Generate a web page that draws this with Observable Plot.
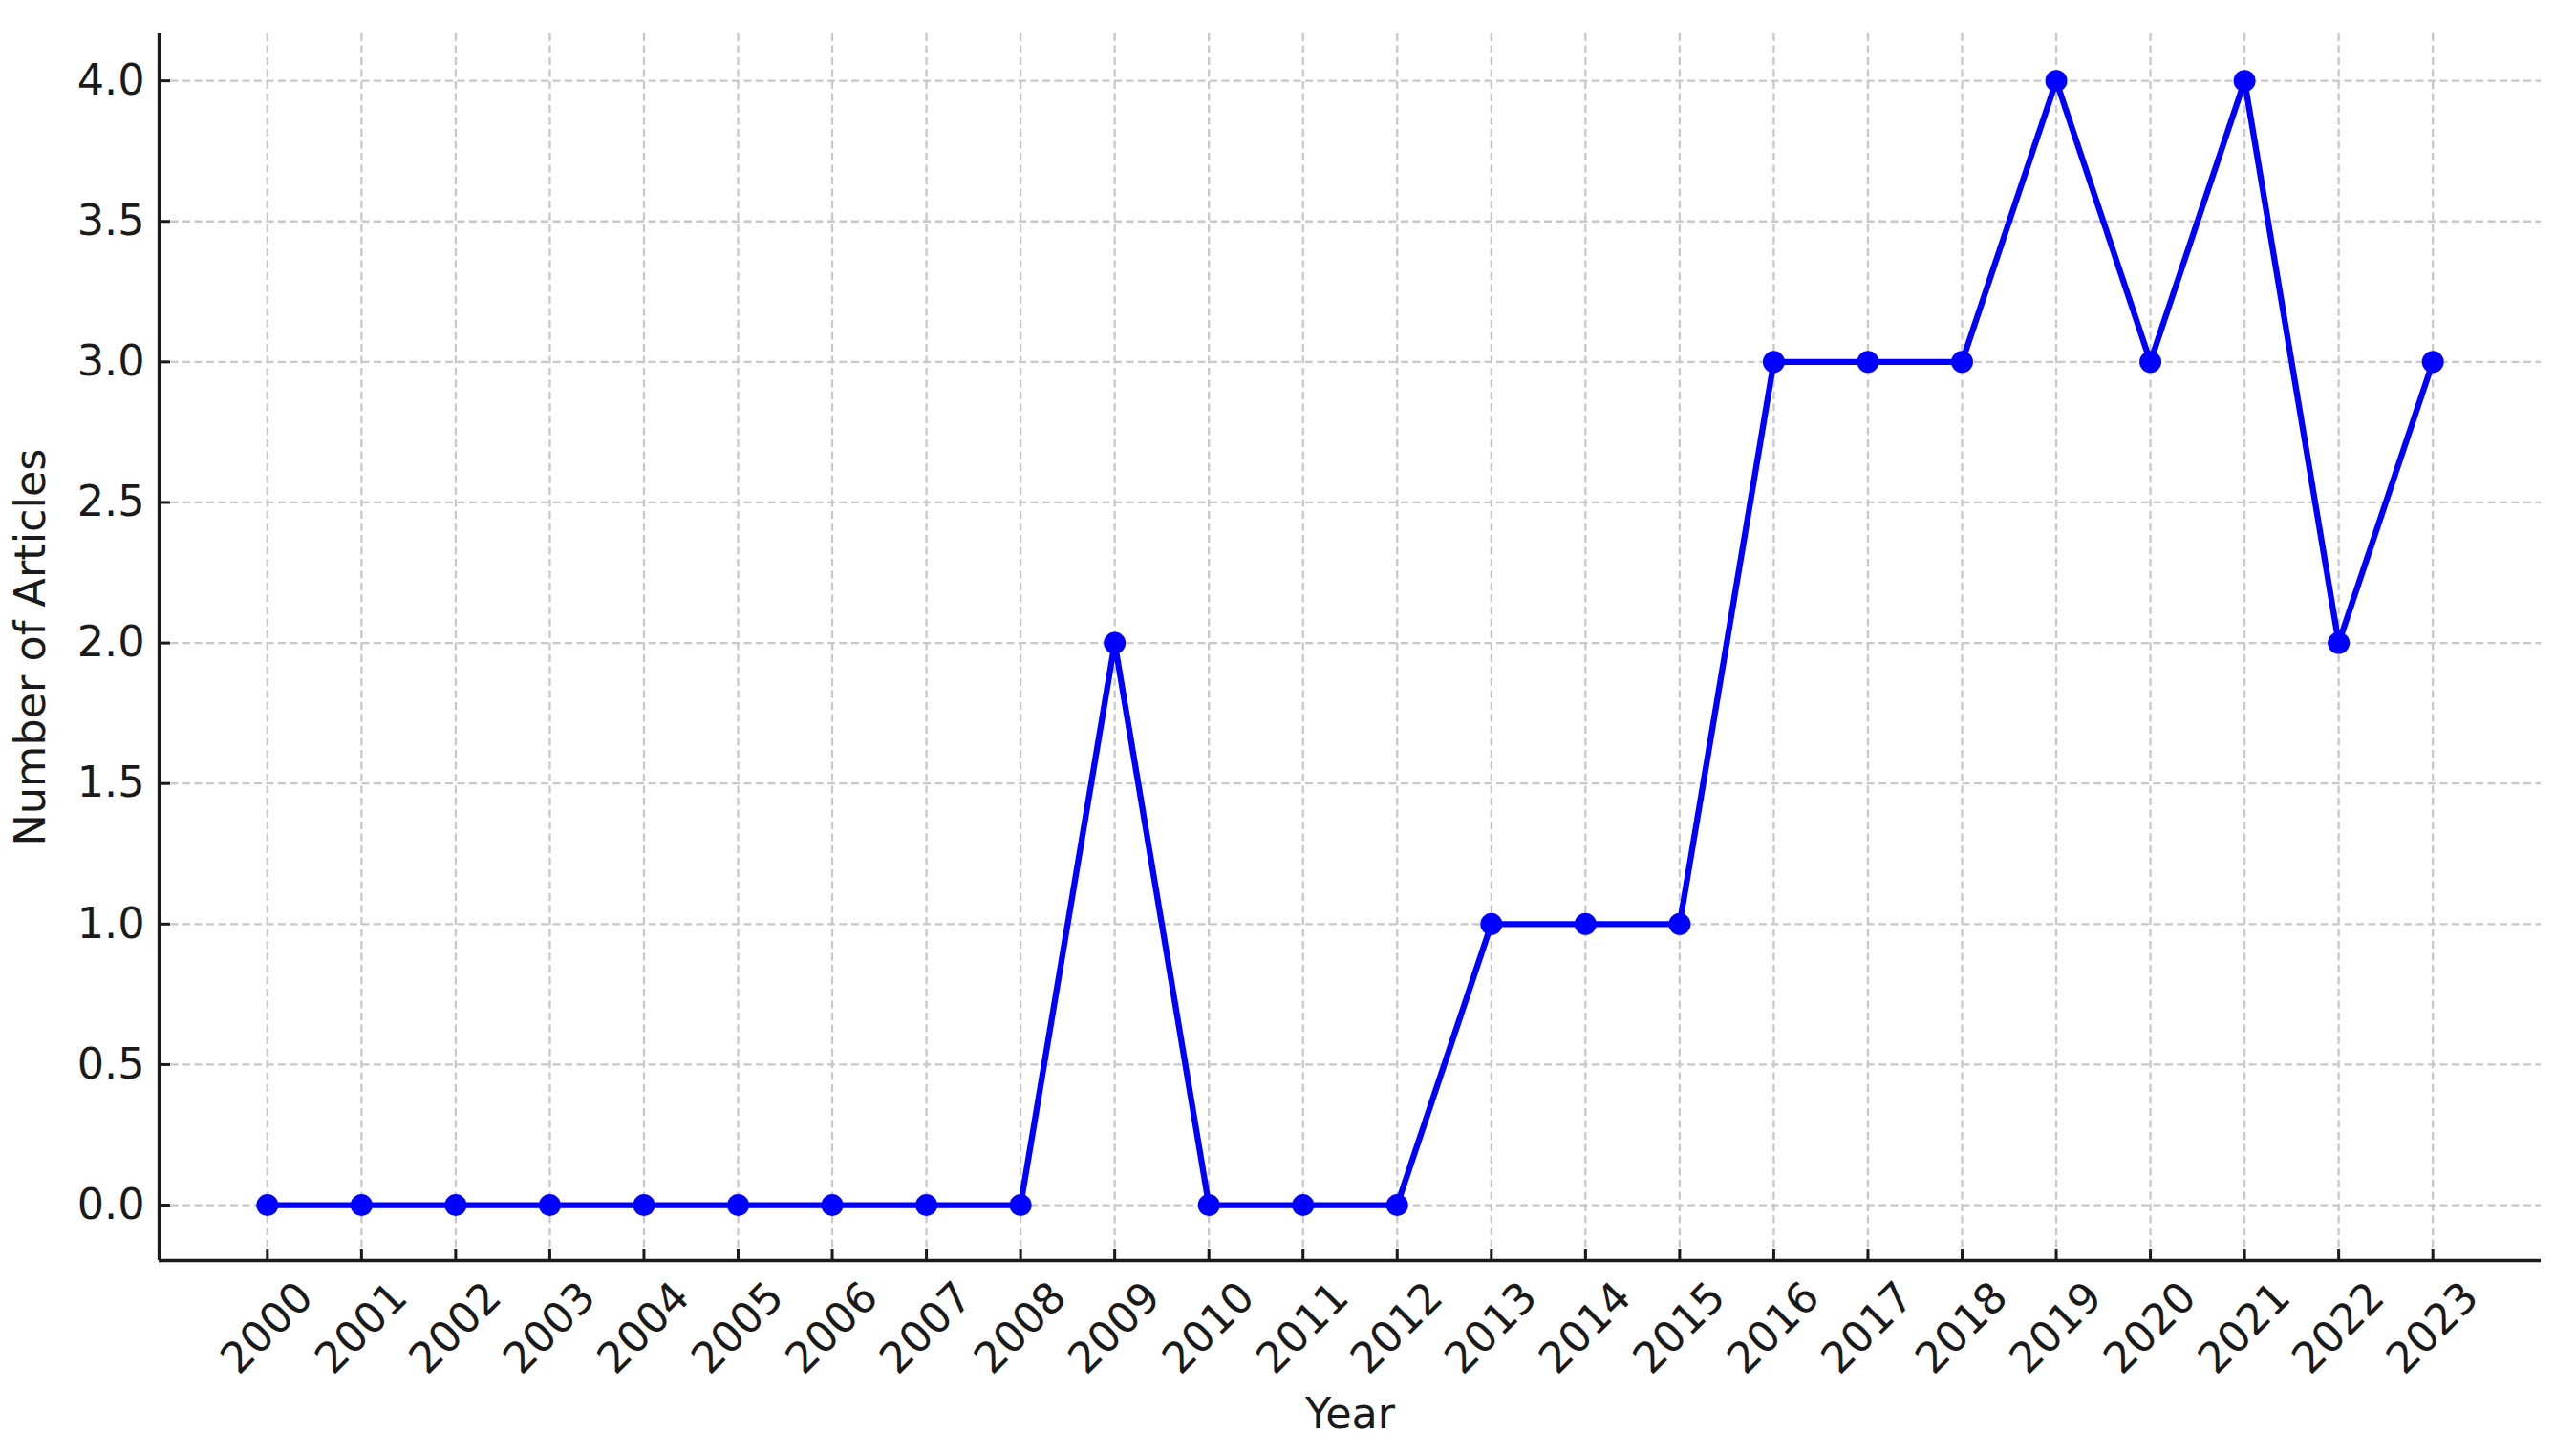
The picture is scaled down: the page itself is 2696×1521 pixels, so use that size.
<!DOCTYPE html>
<html>
<head>
<meta charset="utf-8">
<script src="https://cdn.jsdelivr.net/npm/d3@7"></script>
<script src="https://cdn.jsdelivr.net/npm/@observablehq/plot@0.6"></script>
<style>
  html, body { margin: 0; padding: 0; background: #ffffff; }
  #chart svg { display: block; }
</style>
</head>
<body>
<div id="chart"></div>
<script>
const years = [2000, 2001, 2002, 2003, 2004, 2005, 2006, 2007, 2008, 2009, 2010, 2011,
               2012, 2013, 2014, 2015, 2016, 2017, 2018, 2019, 2020, 2021, 2022, 2023];
const articles = [0, 0, 0, 0, 0, 0, 0, 0, 0, 2, 0, 0,
                  0, 1, 1, 1, 3, 3, 3, 4, 3, 4, 2, 3];
const yTicks = [0, 0.5, 1, 1.5, 2, 2.5, 3, 3.5, 4];
const xLabel = "Year";
const yLabel = "Number of Articles";

const data = years.map((y, i) => ({year: y, count: articles[i]}));

const W = 2696, H = 1521;
const mL = 166, mR = 37, mT = 35, mB = 202;
const plotW = W - mL - mR, plotH = H - mT - mB;
const xDomain = [1998.85, 2024.15];
const yDomain = [-0.197, 4.167];
const font = "'DejaVu Sans', sans-serif";
const ink = "#1a1a1a";
const fs = 44.5;
const gridStyle = {stroke: "#c8c8c8", strokeOpacity: 1, strokeWidth: 2.3, strokeDasharray: "8,4.5"};

const chart = Plot.plot({
  width: W,
  height: H,
  marginLeft: mL,
  marginRight: mR,
  marginTop: mT,
  marginBottom: mB,
  style: {fontFamily: font, background: "#ffffff", color: ink, fontSize: fs + "px"},
  x: {type: "linear", domain: xDomain, axis: null},
  y: {type: "linear", domain: yDomain},
  marks: [
    Plot.gridX(years, gridStyle),
    Plot.gridY(yTicks, gridStyle),
    // inward ticks
    Plot.tickX(years, {x: d => d, stroke: ink, strokeWidth: 3, insetTop: plotH - 12}),
    Plot.tickY(yTicks, {y: d => d, stroke: ink, strokeWidth: 3, insetRight: plotW - 12}),
    // spines (left and bottom)
    Plot.ruleX([xDomain[0]], {stroke: ink, strokeWidth: 3.3}),
    Plot.ruleY([yDomain[0]], {stroke: ink, strokeWidth: 3.3}),
    // y tick labels
    Plot.axisY({ticks: yTicks, tickSize: 0, tickPadding: 15, tickFormat: d3.format(".1f"),
                fontSize: fs, label: null, fill: ink}),
    // x tick labels, rotated
    Plot.text(years, {x: d => d, frameAnchor: "bottom", dy: 71, rotate: -45,
                      textAnchor: "middle", lineAnchor: "middle", fontSize: fs, fill: ink,
                      text: d => String(d)}),
    // axis titles
    Plot.text([xLabel], {frameAnchor: "bottom", dy: 161, textAnchor: "middle", lineAnchor: "middle",
                         fontSize: fs, fill: ink, text: d => d}),
    Plot.text([yLabel], {frameAnchor: "left", dx: -134, rotate: -90, textAnchor: "middle",
                         lineAnchor: "middle", fontSize: fs, fill: ink, text: d => d}),
    // data
    Plot.line(data, {x: "year", y: "count", stroke: "#0000ff", strokeWidth: 6.3}),
    Plot.dot(data, {x: "year", y: "count", r: 11.5, fill: "#0000ff", stroke: "none"})
  ]
});
document.getElementById("chart").appendChild(chart);
</script>
</body>
</html>
